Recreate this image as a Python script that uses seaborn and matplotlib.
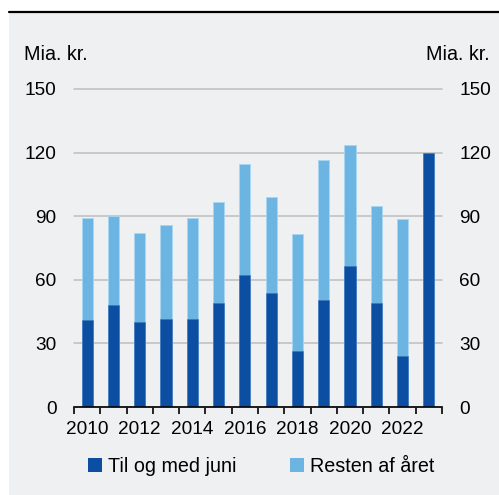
import matplotlib
matplotlib.use("Agg")
import matplotlib.pyplot as plt
from matplotlib.patches import Rectangle, Patch
from matplotlib.lines import Line2D
import seaborn as sns
import pandas as pd
import numpy as np

years = [2010, 2011, 2012, 2013, 2014, 2015, 2016, 2017, 2018, 2019, 2020, 2021, 2022, 2023]
first_half = [41.0, 48.3, 40.0, 41.4, 41.7, 49.2, 62.3, 53.9, 26.6, 50.5, 66.5, 49.2, 24.1, 120.0]
rest_of_year = [48.3, 41.8, 41.9, 44.3, 47.5, 47.5, 52.2, 45.3, 54.8, 65.9, 57.2, 45.8, 64.4, 0.0]
y_ticks = [0, 30, 60, 90, 120, 150]
series_labels = ["Til og med juni", "Resten af året"]
unit_label = "Mia. kr."

dark_blue = "#0C4EA2"
light_blue = "#6CB4E2"
panel_bg = "#EFF0F2"
grid_grey = "#BEBEBE"

df = pd.DataFrame({
    "year": [str(y) for y in years],
    "first": first_half,
    "rest": rest_of_year,
})
df["total"] = df["first"] + df["rest"]

sns.set_theme(style="white")
plt.rcParams["font.family"] = ["Liberation Sans", "DejaVu Sans"]
plt.rcParams["font.size"] = 13.5
plt.rcParams["text.color"] = "black"
plt.rcParams["xtick.color"] = "black"
plt.rcParams["ytick.color"] = "black"

W, H = 499, 495
fig = plt.figure(figsize=(W / 100, H / 100), dpi=100, facecolor="white")

# grey panel with black rule on top
fig.patches.append(Rectangle((9 / W, 0), 1 - 9 / W, 1 - 13 / H, transform=fig.transFigure,
                             facecolor=panel_bg, edgecolor="none", zorder=-5))
fig.add_artist(Line2D([9 / W, 1], [1 - 12 / H, 1 - 12 / H], transform=fig.transFigure,
                      color="black", linewidth=1.6))

ax = fig.add_axes([74 / W, 88 / H, (442 - 74) / W, (407 - 89) / H])
ax.set_facecolor("none")
ax.set_zorder(2)

sns.barplot(data=df, x="year", y="total", color=light_blue, saturation=1, width=0.42,
            edgecolor="#A9D6F3", linewidth=0.6, ax=ax, zorder=2)
sns.barplot(data=df, x="year", y="first", color=dark_blue, saturation=1, width=0.42,
            edgecolor="#3F74B8", linewidth=0.4, ax=ax, zorder=3)

ax.set_xlim(-0.5, len(years) - 0.5)
ax.set_ylim(0, 150)
ax.set_yticks(y_ticks)
ax.yaxis.grid(True, color=grid_grey, linewidth=1.1, zorder=1)
for gl in ax.get_ygridlines():
    gl.set_clip_on(False)
ax.set_axisbelow(True)
for s in ["top", "left", "right"]:
    ax.spines[s].set_visible(False)
ax.spines["bottom"].set_color("black")
ax.spines["bottom"].set_linewidth(1.2)
ax.spines["bottom"].set_zorder(5)

ax.set_xlabel("")
ax.set_ylabel("")

# year labels every second year, tick marks between bars
pos = np.arange(len(years))
ax.set_xticks(pos[::2])
ax.set_xticklabels([str(y) for y in years[::2]])
ax.set_xticks(np.arange(-0.5, len(years), 1.0), minor=True)
ax.tick_params(axis="x", which="major", length=0, pad=10, labelsize=13.7, labelcolor="black")
ax.tick_params(axis="x", which="minor", bottom=True, length=5, width=1.2, color="black")
ax.tick_params(axis="y", which="major", length=0, left=False, right=False,
               labelleft=True, labelright=True, pad=12.5, labelsize=13.7, labelcolor="black")

fig.text(24 / W, 1 - 54 / H, unit_label, ha="left", va="center", fontsize=14.2, color="black")
fig.text(490 / W, 1 - 54 / H, unit_label, ha="right", va="center", fontsize=14.2, color="black")

handles = [Patch(facecolor=dark_blue, edgecolor="none"), Patch(facecolor=light_blue, edgecolor="none")]
fig.legend(handles, series_labels, loc="center", bbox_to_anchor=(261 / W, 29 / H), ncol=2,
           frameon=False, handlelength=0.72, handleheight=0.72, handletextpad=0.3,
           columnspacing=2.7, fontsize=14.2, labelcolor="black")

fig.savefig("out.png", dpi=100, facecolor="white")
